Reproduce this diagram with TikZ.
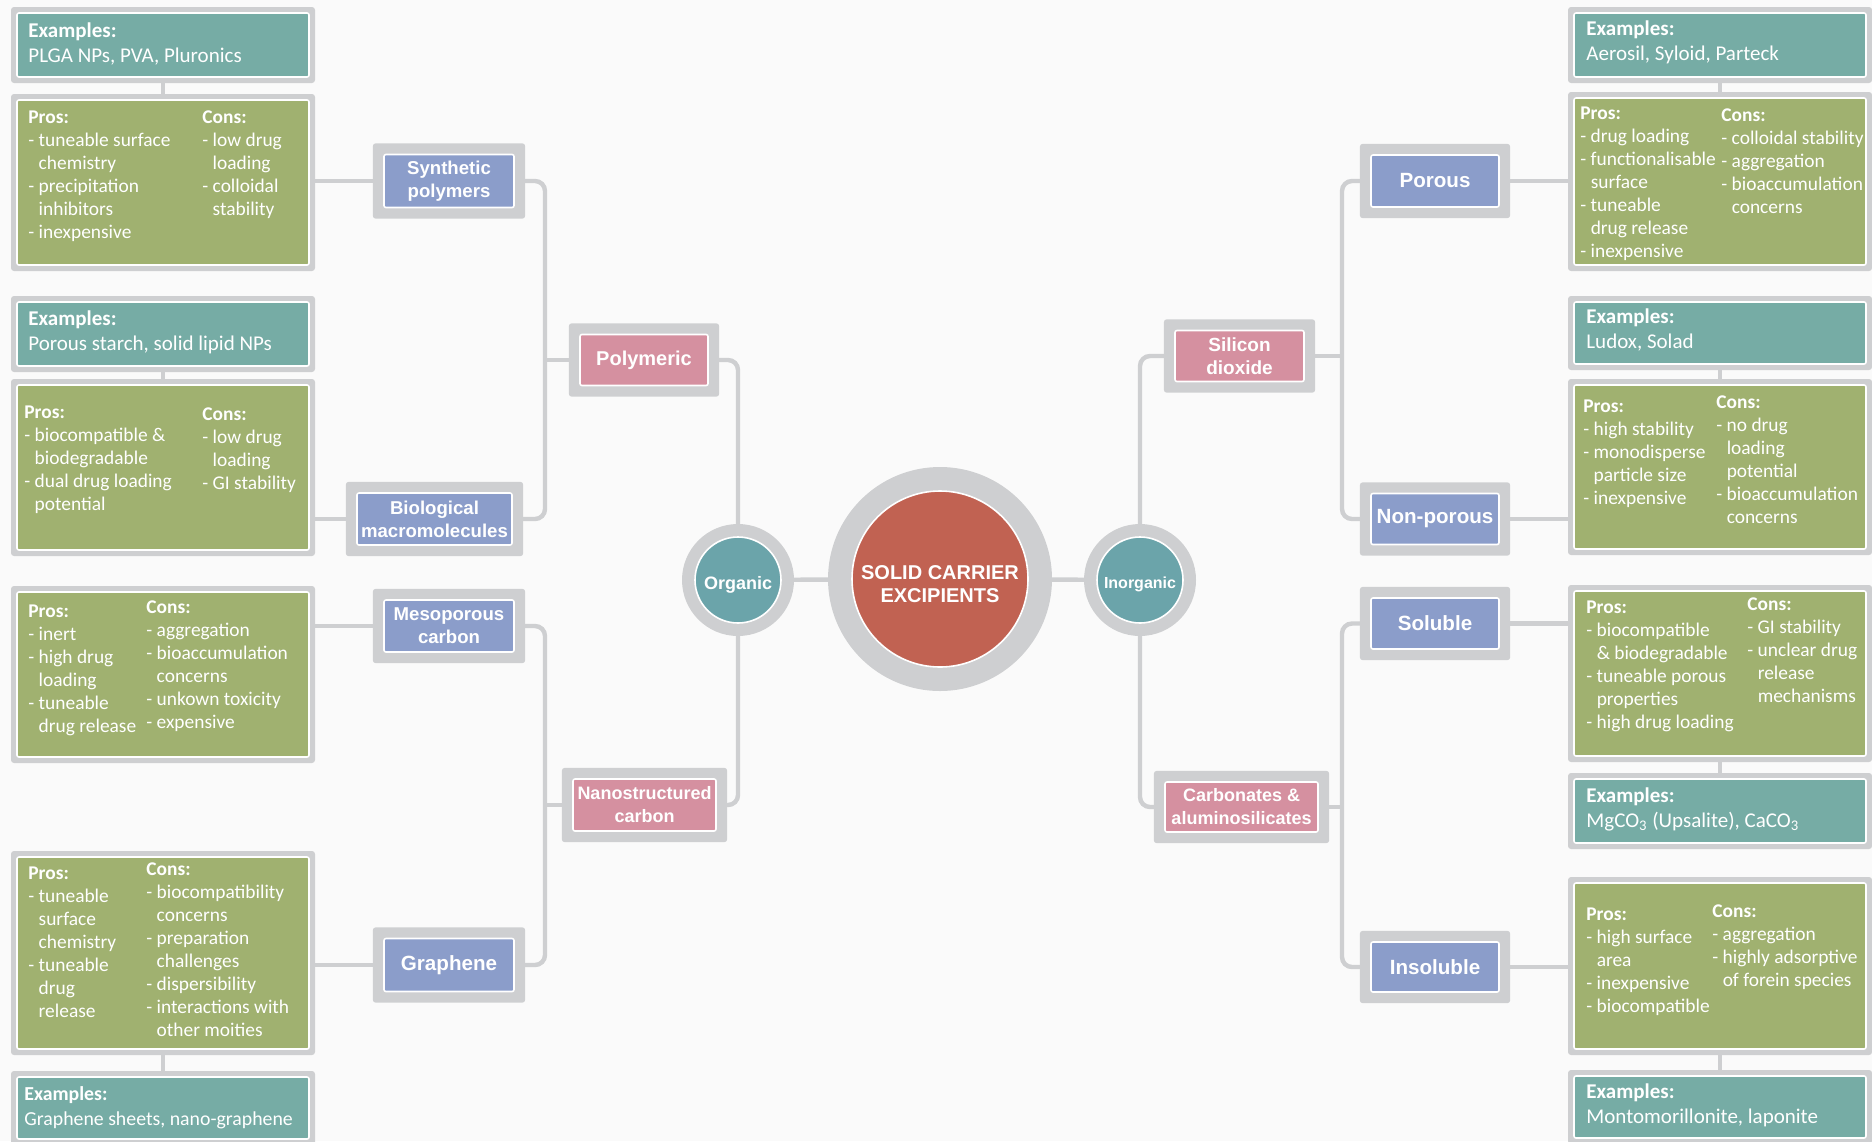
\documentclass[tikz,border=0pt]{standalone}
\usepackage{fontspec}
\setmainfont{Carlito}
\newfontfamily\lab{Liberation Sans}
\usetikzlibrary{fit,backgrounds}

\definecolor{bgc}{RGB}{250,250,250}
\definecolor{framegray}{RGB}{206,207,209}
\definecolor{exteal}{RGB}{118,172,165}
\definecolor{progreen}{RGB}{160,177,112}
\definecolor{catblue}{RGB}{139,157,202}
\definecolor{catpink}{RGB}{213,144,160}
\definecolor{corered}{RGB}{193,98,82}
\definecolor{circteal}{RGB}{107,164,170}

\newcommand{\ct}{\hphantom{- }}
\newcommand{\col}[1]{\begin{tabular}[t]{@{}l@{}}#1\end{tabular}}
\newcommand{\sinktext}[2]{\raisebox{#1}[\height][\depth]{\begin{tabular}{@{}c@{}}#2\end{tabular}}}

\tikzset{
  tbox/.style={draw=white, line width=0.8pt, rounded corners=1pt, minimum width=146pt, inner sep=0pt},
  exbox/.style={tbox, fill=exteal},
  pcbox/.style={tbox, fill=progreen},
  txt/.style={anchor=base west, inner sep=0pt, text=white, font=\fontsize{9.7}{11.5}\selectfont},
  extxt/.style={txt, font=\fontsize{10.5}{12.5}\selectfont},
  catbox/.style={draw=white, line width=0.8pt, rounded corners=1pt, inner sep=0pt, text=white, align=center,
    font=\lab\bfseries\fontsize{9.3}{11.5}\selectfont},
  bluebox/.style={catbox, fill=catblue},
  pinkbox/.style={catbox, fill=catpink},
  bigcat/.style={font=\lab\bfseries\fontsize{10.3}{12}\selectfont},
  hub/.style={circle, draw=white, line width=0.8pt, inner sep=0pt, text=white, align=center},
  tframe/.style={fill=framegray, rounded corners=1.5pt, inner sep=2.6pt},
  cframe/.style={fill=framegray, rounded corners=1.5pt, inner sep=5.2pt},
  link/.style={draw=framegray, line width=2.2pt, rounded corners=5pt}
}

\begin{document}
\begin{tikzpicture}[x=0.5pt, y=-0.5pt]
\useasboundingbox (0,0) rectangle (1872,1141);
\def\lx{163}
\def\rx{1720}

% centre
\node[hub, fill=corered, minimum size=88pt, font=\lab\bfseries\fontsize{10}{11.5}\selectfont] (core) at (940,579) {\sinktext{-3.5pt}{SOLID CARRIER\\EXCIPIENTS}};
\node[hub, fill=circteal, minimum size=43pt, font=\lab\bfseries\fontsize{9}{10}\selectfont] (org) at (738,580) {\sinktext{-2.5pt}{Organic}};
\node[hub, fill=circteal, minimum size=43pt, font=\lab\bfseries\fontsize{8}{10}\selectfont] (inorg) at (1140,580) {\sinktext{-2pt}{Inorganic}};

% second level
\node[pinkbox, minimum width=64pt, minimum height=25.5pt, font=\lab\bfseries\fontsize{10}{12}\selectfont] (poly) at (644,360) {Polymeric};
\node[pinkbox, minimum width=71.5pt, minimum height=26pt, font=\lab\bfseries\fontsize{9}{11.5}\selectfont] (nano) at (644.5,805) {Nanostructured\\carbon};
\node[pinkbox, minimum width=64.5pt, minimum height=25.5pt, font=\lab\bfseries\fontsize{9.5}{11.5}\selectfont] (sil) at (1239.5,356) {Silicon\\dioxide};
\node[pinkbox, minimum width=76.5pt, minimum height=25pt, font=\lab\bfseries\fontsize{9}{11.5}\selectfont] (carb) at (1241.5,807) {Carbonates \&\\aluminosilicates};

% third level
\node[bluebox, minimum width=65pt, minimum height=26.5pt] (syn) at (449,181) {Synthetic\\polymers};
\node[bluebox, minimum width=77.5pt, minimum height=26pt] (bio) at (434.5,519) {Biological\\macromolecules};
\node[bluebox, minimum width=65pt, minimum height=26pt] (meso) at (449,626) {Mesoporous\\carbon};
\node[bluebox, bigcat, minimum width=65pt, minimum height=26.5pt] (graph) at (449,965) {Graphene};
\node[bluebox, bigcat, minimum width=64pt, minimum height=26pt] (por) at (1435,181) {Porous};
\node[bluebox, bigcat, minimum width=64pt, minimum height=25.5pt] (nonp) at (1435,519) {Non-porous};
\node[bluebox, bigcat, minimum width=64pt, minimum height=25.5pt] (sol) at (1435,623.5) {Soluble};
\node[bluebox, bigcat, minimum width=64pt, minimum height=25pt] (insol) at (1435,967) {Insoluble};

% text boxes, left
\node[exbox, minimum height=32pt] (ex1) at (\lx,45) {};
\node[pcbox, minimum height=82.5pt] (pc1) at (\lx,182.5) {};
\node[exbox, minimum height=32pt] (ex2) at (\lx,334) {};
\node[pcbox, minimum height=82.5pt] (pc2) at (\lx,467.5) {};
\node[pcbox, minimum height=82.5pt] (pc3) at (\lx,674.5) {};
\node[pcbox, minimum height=96pt] (pc4) at (\lx,953) {};
\node[exbox, minimum height=31pt] (ex4) at (\lx,1108) {};

% text boxes, right
\node[exbox, minimum height=32pt] (rex1) at (\rx,45) {};
\node[pcbox, minimum height=83.5pt] (rpc1) at (\rx,181.5) {};
\node[exbox, minimum height=31pt] (rex2) at (\rx,333) {};
\node[pcbox, minimum height=82pt] (rpc2) at (\rx,467) {};
\node[pcbox, minimum height=82.5pt] (rpc3) at (\rx,673.5) {};
\node[exbox, minimum height=32pt] (rex3) at (\rx,811) {};
\node[pcbox, minimum height=83pt] (rpc4) at (\rx,966) {};
\node[exbox, minimum height=31pt] (rex4) at (\rx,1107) {};

% texts, left
\node[extxt] at (28,37) {\col{\textbf{Examples:}\\PLGA NPs, PVA, Pluronics}};
\node[txt] at (28,123) {\col{\textbf{Pros:}\\- tuneable surface\\\ct chemistry\\- precipitation\\\ct inhibitors\\- inexpensive}};
\node[txt] at (202,123) {\col{\textbf{Cons:}\\- low drug\\\ct loading\\- colloidal\\\ct stability}};
\node[extxt] at (28,325) {\col{\textbf{Examples:}\\Porous starch, solid lipid NPs}};
\node[txt] at (24,418) {\col{\textbf{Pros:}\\- biocompatible \&\\\ct biodegradable\\- dual drug loading\\\ct potential}};
\node[txt] at (202,420) {\col{\textbf{Cons:}\\- low drug\\\ct loading\\- GI stability}};
\node[txt] at (28,617) {\col{\textbf{Pros:}\\- inert\\- high drug\\\ct loading\\- tuneable\\\ct drug release}};
\node[txt] at (146,613) {\col{\textbf{Cons:}\\- aggregation\\- bioaccumulation\\\ct concerns\\- unkown toxicity\\- expensive}};
\node[txt] at (28,879) {\col{\textbf{Pros:}\\- tuneable\\\ct surface\\\ct chemistry\\- tuneable\\\ct drug\\\ct release}};
\node[txt] at (146,875) {\col{\textbf{Cons:}\\- biocompatibility\\\ct concerns\\- preparation\\\ct challenges\\- dispersibility\\- interactions with\\\ct other moities}};
\node[extxt, font=\fontsize{9.9}{12.5}\selectfont] at (24,1100) {\col{\textbf{Examples:}\\Graphene sheets, nano-graphene}};

% texts, right
\node[extxt] at (1586,35) {\col{\textbf{Examples:}\\Aerosil, Syloid, Parteck}};
\node[txt] at (1580,119) {\col{\textbf{Pros:}\\- drug loading\\- functionalisable\\\ct surface\\- tuneable\\\ct drug release\\- inexpensive}};
\node[txt] at (1721,121) {\col{\textbf{Cons:}\\- colloidal stability\\- aggregation\\- bioaccumulation\\\ct concerns}};
\node[extxt] at (1586,323) {\col{\textbf{Examples:}\\Ludox, Solad}};
\node[txt] at (1583,412) {\col{\textbf{Pros:}\\- high stability\\- monodisperse\\\ct particle size\\- inexpensive}};
\node[txt] at (1716,408) {\col{\textbf{Cons:}\\- no drug\\\ct loading\\\ct potential\\- bioaccumulation\\\ct concerns}};
\node[txt] at (1586,613) {\col{\textbf{Pros:}\\- biocompatible\\\ct \& biodegradable\\- tuneable porous\\\ct properties\\- high drug loading}};
\node[txt] at (1747,610) {\col{\textbf{Cons:}\\- GI stability\\- unclear drug\\\ct release\\\ct mechanisms}};
\node[extxt] at (1586,802) {\col{\textbf{Examples:}\\MgCO\textsubscript{3} (Upsalite), CaCO\textsubscript{3}}};
\node[txt] at (1586,920) {\col{\textbf{Pros:}\\- high surface\\\ct area\\- inexpensive\\- biocompatible}};
\node[txt] at (1712,917) {\col{\textbf{Cons:}\\- aggregation\\- highly adsorptive\\\ct of forein species}};
\node[extxt] at (1586,1098) {\col{\textbf{Examples:}\\Montomorillonite, laponite}};

\begin{scope}[on background layer]
\fill[bgc] (0,0) rectangle (1872,1141);
% grey frames
\foreach \n in {ex1,pc1,ex2,pc2,pc3,pc4,ex4,rex1,rpc1,rex2,rpc2,rpc3,rex3,rpc4,rex4}
  \node[tframe, fit=(\n)] {};
\foreach \n in {poly,nano,sil,carb,syn,bio,meso,graph,por,nonp,sol,insol}
  \node[cframe, fit=(\n)] {};
\fill[framegray] (core) circle (56pt);
\fill[framegray] (org) circle (28pt);
\fill[framegray] (inorg) circle (28pt);

% connectors
\coordinate (lj1) at (545,360);
\coordinate (lj2) at (545,805);
\coordinate (rj1) at (1342,356);
\coordinate (rj2) at (1342,807);
\draw[link] (org) -- (core);
\draw[link] (core) -- (inorg);
\draw[link] (poly) -| (org);
\draw[link] (nano) -| (org);
\draw[link] (sil) -| (inorg);
\draw[link] (carb) -| (inorg);
\draw[link] (syn) -| (lj1) |- (bio);
\draw[link] (poly) -- (lj1);
\draw[link] (meso) -| (lj2) |- (graph);
\draw[link] (nano) -- (lj2);
\draw[link] (por) -| (rj1) |- (nonp);
\draw[link] (sil) -- (rj1);
\draw[link] (sol) -| (rj2) |- (insol);
\draw[link] (carb) -- (rj2);
\draw[link] (syn) -- (syn -| pc1.east);
\draw[link] (bio) -- (bio -| pc2.east);
\draw[link] (meso) -- (meso -| pc3.east);
\draw[link] (graph) -- (graph -| pc4.east);
\draw[link] (por) -- (por -| rpc1.west);
\draw[link] (nonp) -- (nonp -| rpc2.west);
\draw[link] (sol) -- (sol -| rpc3.west);
\draw[link] (insol) -- (insol -| rpc4.west);
\foreach \a/\b in {ex1/pc1,ex2/pc2,pc4/ex4,rex1/rpc1,rex2/rpc2,rpc3/rex3,rpc4/rex4}
  \draw[link] (\a) -- (\b);
\end{scope}
\end{tikzpicture}
\end{document}
